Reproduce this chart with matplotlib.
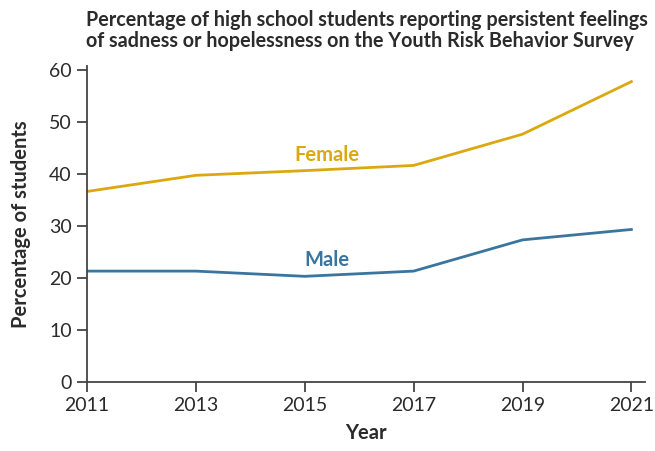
import matplotlib
matplotlib.use("Agg")
import matplotlib.pyplot as plt

years = [2011, 2013, 2015, 2017, 2019, 2021]
female = [36.6, 39.7, 40.6, 41.6, 47.6, 57.7]
male = [21.3, 21.3, 20.3, 21.3, 27.3, 29.3]
yticks = [0, 10, 20, 30, 40, 50, 60]

plt.rcParams['font.family'] = ['Lato', 'DejaVu Sans']

fig = plt.figure(figsize=(6.55, 4.51), dpi=100)
ax = fig.add_axes([87/655, 1-382/451, (645-87)/655, (382-66)/451])

gold = '#DBA90F'
blue = '#3A75A0'
ax.plot(years, female, color=gold, lw=2.0, solid_joinstyle='miter')
ax.plot(years, male, color=blue, lw=2.0, solid_joinstyle='miter')

ax.text(2015.4, 41.6, 'Female', color=gold, fontsize=14.5, fontweight='bold', ha='center', va='bottom')
ax.text(2015.4, 21.6, 'Male', color=blue, fontsize=14.5, fontweight='bold', ha='center', va='bottom')

ax.set_xlim(2011, 2021.25)
ax.set_ylim(0, 60.7)
ax.set_xticks(years)
ax.set_yticks(yticks)
for s in ['top', 'right']:
    ax.spines[s].set_visible(False)
for s in ['left', 'bottom']:
    ax.spines[s].set_color('#444444')
    ax.spines[s].set_linewidth(1.3)
ax.tick_params(axis='both', direction='out', length=7, width=1.3, color='#444444',
               labelsize=14, labelcolor='#2b2b2b', pad=4)

ax.set_xlabel('Year', fontsize=14.5, fontweight='bold', color='#2b2b2b', labelpad=6)
ax.set_ylabel('Percentage of students', fontsize=14.5, fontweight='bold', color='#2b2b2b', labelpad=13)

fig.text(86/655, 1-10/451, 'Percentage of high school students reporting persistent feelings\nof sadness or hopelessness on the Youth Risk Behavior Survey',
         fontsize=14.2, fontweight='bold', color='#2b2b2b', ha='left', va='top', linespacing=1.08)

fig.savefig('out.png', dpi=100)
